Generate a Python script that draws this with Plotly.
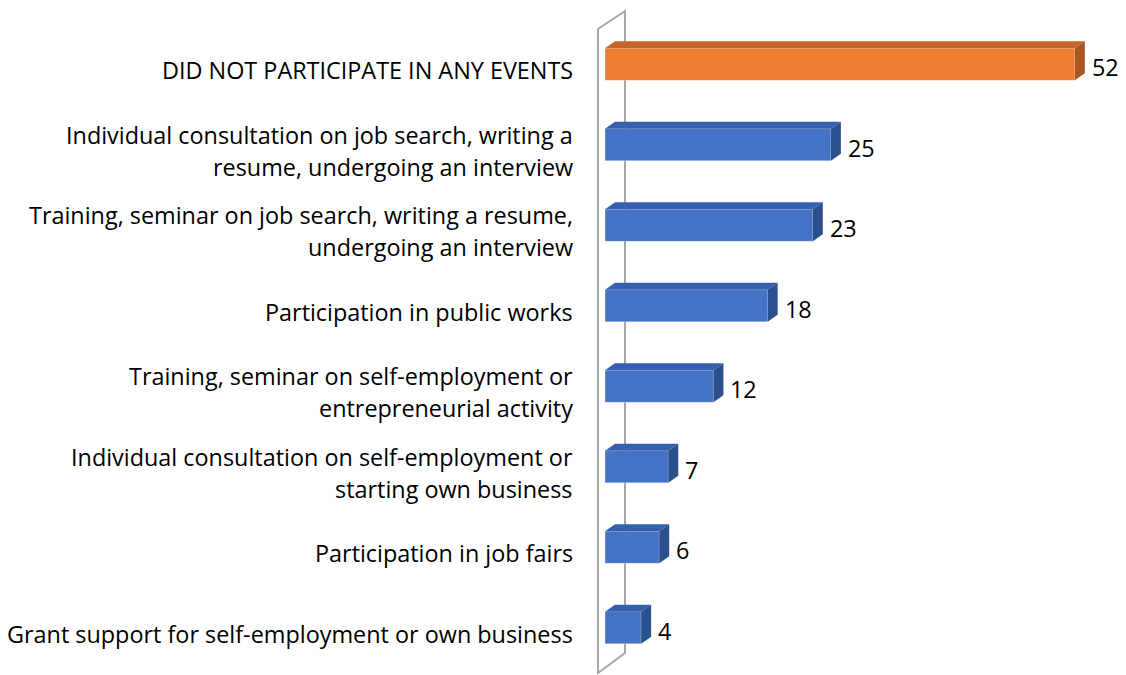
import plotly.graph_objects as go

# Survey: participation in employment-support events, % of respondents
categories = [
    "Grant support for self-employment or own business",
    "Participation in job fairs",
    "Individual consultation on self-employment or<br>starting own business",
    "Training, seminar on self-employment or<br>entrepreneurial activity",
    "Participation in public works",
    "Training, seminar on job search, writing a resume,<br>undergoing an interview",
    "Individual consultation on job search, writing a<br>resume, undergoing an interview",
    "DID NOT PARTICIPATE IN ANY EVENTS",
]
values = [4, 6, 7, 12, 18, 23, 25, 52]
highlight = [False, False, False, False, False, False, False, True]

# layout geometry
W, H = 1126, 675
ML, MR, MT, MB = 605, 6, 24, 7
XMAX = 57
plot_w = W - ML - MR
plot_h = H - MT - MB
px_per_unit = plot_w / XMAX
bar_width = 0.4
bar_px = bar_width * plot_h / len(categories)
DX, DY = 10, 7  # depth of the 3D extrusion, px
FONT = dict(family="Open Sans, sans-serif", size=23.4, color="#000000")
LINE_GAP = 32   # px between lines of a category label
TEXT_DROP = 6   # labels sit slightly below the bar's front face

FRONT = {True: "#ED7D31", False: "#4472C4"}
TOP = {True: "#C4652A", False: "#3560AE"}
SIDE = {True: "#A9561F", False: "#2C4F8E"}

fig = go.Figure()
fig.add_trace(go.Bar(
    x=values, y=categories, orientation="h", width=bar_width,
    marker=dict(color=[FRONT[h] for h in highlight],
                line=dict(color="rgba(255,255,255,0.35)", width=1)),
    hoverinfo="x", showlegend=False,
))

shapes = []
# side wall behind the bars
shapes.append(dict(
    type="path", xref="paper", yref="paper", xsizemode="pixel", ysizemode="pixel",
    xanchor=0, yanchor=0,
    path="M -7 -5 L -7 639 L 20 657 L 20 15 Z",
    line=dict(color="#A6A6A6", width=2), fillcolor="rgba(0,0,0,0)", layer="below",
))

dx_u = DX / px_per_unit
h2 = bar_px / 2
for cat, v, hl in zip(categories, values, highlight):
    # top face
    shapes.append(dict(
        type="path", xref="x", yref="y", ysizemode="pixel", yanchor=cat,
        path=f"M 0 {h2} L {dx_u} {h2 + DY} L {v + dx_u} {h2 + DY} L {v} {h2} Z",
        fillcolor=TOP[hl], line=dict(width=0), layer="above",
    ))
    # right side face
    shapes.append(dict(
        type="path", xref="x", yref="y", ysizemode="pixel", yanchor=cat,
        path=f"M {v} {-h2} L {v} {h2} L {v + dx_u} {h2 + DY} L {v + dx_u} {-h2 + DY} Z",
        fillcolor=SIDE[hl], line=dict(width=0), layer="above",
    ))

annotations = []
# category labels, one annotation per line for wider line spacing
for cat in categories:
    lines = cat.split("<br>")
    n = len(lines)
    for i, line in enumerate(lines):
        offset = (i - (n - 1) / 2) * LINE_GAP
        annotations.append(dict(
            x=0, y=cat, xref="paper", yref="y", text=line, showarrow=False,
            xanchor="right", yanchor="middle", xshift=-30,
            yshift=-(TEXT_DROP + offset), font=FONT,
        ))
# value labels beside each bar
for cat, v in zip(categories, values):
    annotations.append(dict(
        x=v, y=cat, xref="x", yref="y", text=str(v), showarrow=False,
        xanchor="left", yanchor="middle", xshift=DX + 5, yshift=-3,
        font=FONT,
    ))

fig.update_layout(
    width=W, height=H,
    margin=dict(l=ML, r=MR, t=MT, b=MB),
    paper_bgcolor="white", plot_bgcolor="white",
    xaxis=dict(range=[0, XMAX], visible=False, fixedrange=True),
    yaxis=dict(
        type="category", categoryorder="array", categoryarray=categories,
        range=[-0.5, len(categories) - 0.5],
        showgrid=False, zeroline=False, showline=False, ticks="",
        showticklabels=False, fixedrange=True,
    ),
    shapes=shapes, annotations=annotations,
    bargap=0.6,
)

fig.write_html("out.html")
